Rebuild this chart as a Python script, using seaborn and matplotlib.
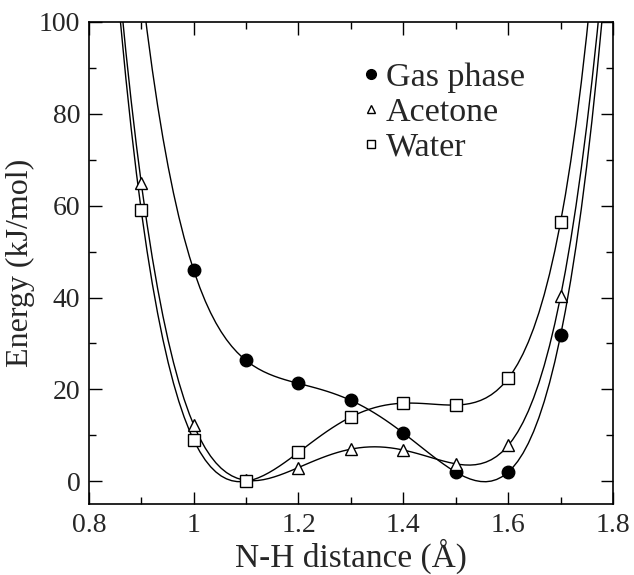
import numpy as np
import pandas as pd
import matplotlib
matplotlib.use("Agg")
import matplotlib.pyplot as plt
import seaborn as sns
from matplotlib.lines import Line2D
from matplotlib.ticker import MultipleLocator

# ─── Data ────────────────────────────────────────────────────────────────────
gas_x = [1.0, 1.1, 1.2, 1.3, 1.4, 1.5, 1.6, 1.7]
gas_y = [46.0, 26.3, 21.3, 17.6, 10.5, 2.0, 2.0, 31.8]

acetone_x = [0.9, 1.0, 1.1, 1.2, 1.3, 1.4, 1.5, 1.6, 1.7]
acetone_y = [65.0, 12.3, 0.2, 3.0, 7.0, 6.8, 3.8, 7.8, 40.3]

water_x = [0.9, 1.0, 1.1, 1.2, 1.3, 1.4, 1.5, 1.6, 1.7]
water_y = [59.0, 9.0, 0.0, 6.3, 14.0, 17.0, 16.6, 22.4, 56.5]

labels = ["Gas phase", "Acetone", "Water"]

sns.set_style("ticks")
plt.rcParams["font.family"] = ["Liberation Serif", "DejaVu Serif"]

fig = plt.figure(figsize=(6.34, 5.75), dpi=100)
ax = fig.add_axes([0.140, 0.123, 0.827, 0.839])
ax.set_xlim(0.8, 1.8)
ax.set_ylim(-5, 100)

series = [
    (gas_x, gas_y, "o", "black", 9),
    (acetone_x, acetone_y, "^", "white", 9),
    (water_x, water_y, "s", "white", 8),
]

for xs, ys, mk, fc, ms in series:
    df = pd.DataFrame({"x": xs, "y": ys})
    # fitted curve through the points, stretched over the whole x range
    sns.regplot(data=df, x="x", y="y", order=len(xs) - 1, ci=None,
                scatter=False, truncate=False, ax=ax,
                line_kws={"color": "black", "lw": 1.0})
    ax.plot(df["x"], df["y"], linestyle="none", marker=mk, ms=ms,
            mfc=fc, mec="black", mew=1.0, zorder=5)

ax.set_xlim(0.8, 1.8)
ax.set_ylim(-5, 100)
ax.xaxis.set_minor_locator(MultipleLocator(0.1))
ax.yaxis.set_major_locator(MultipleLocator(20))
ax.yaxis.set_minor_locator(MultipleLocator(10))
ax.set_xticks([0.8, 1.0, 1.2, 1.4, 1.6, 1.8])
ax.set_xticklabels(["0.8", "1", "1.2", "1.4", "1.6", "1.8"])
ax.tick_params(which="both", direction="in", top=True, right=True,
               labelsize=20, width=1.0, color="black", pad=6)
ax.tick_params(which="major", length=9)
ax.tick_params(which="minor", length=5)
for sp in ax.spines.values():
    sp.set_visible(True)
    sp.set_linewidth(1.2)
    sp.set_color("black")

ax.set_xlabel("N-H distance (Å)", fontsize=24, labelpad=1)
ax.set_ylabel("Energy (kJ/mol)", fontsize=23, labelpad=3)

handles = [
    Line2D([], [], linestyle="none", marker="o", ms=7, mfc="black", mec="black"),
    Line2D([], [], linestyle="none", marker="^", ms=6, mfc="white", mec="black"),
    Line2D([], [], linestyle="none", marker="s", ms=6, mfc="white", mec="black"),
]
ax.legend(handles, labels, loc="upper left", bbox_to_anchor=(0.492, 0.945),
          frameon=False, fontsize=24.5, handlelength=0.6, handletextpad=0.15,
          labelspacing=0.12, borderaxespad=0)

fig.savefig("out.png", dpi=100)
